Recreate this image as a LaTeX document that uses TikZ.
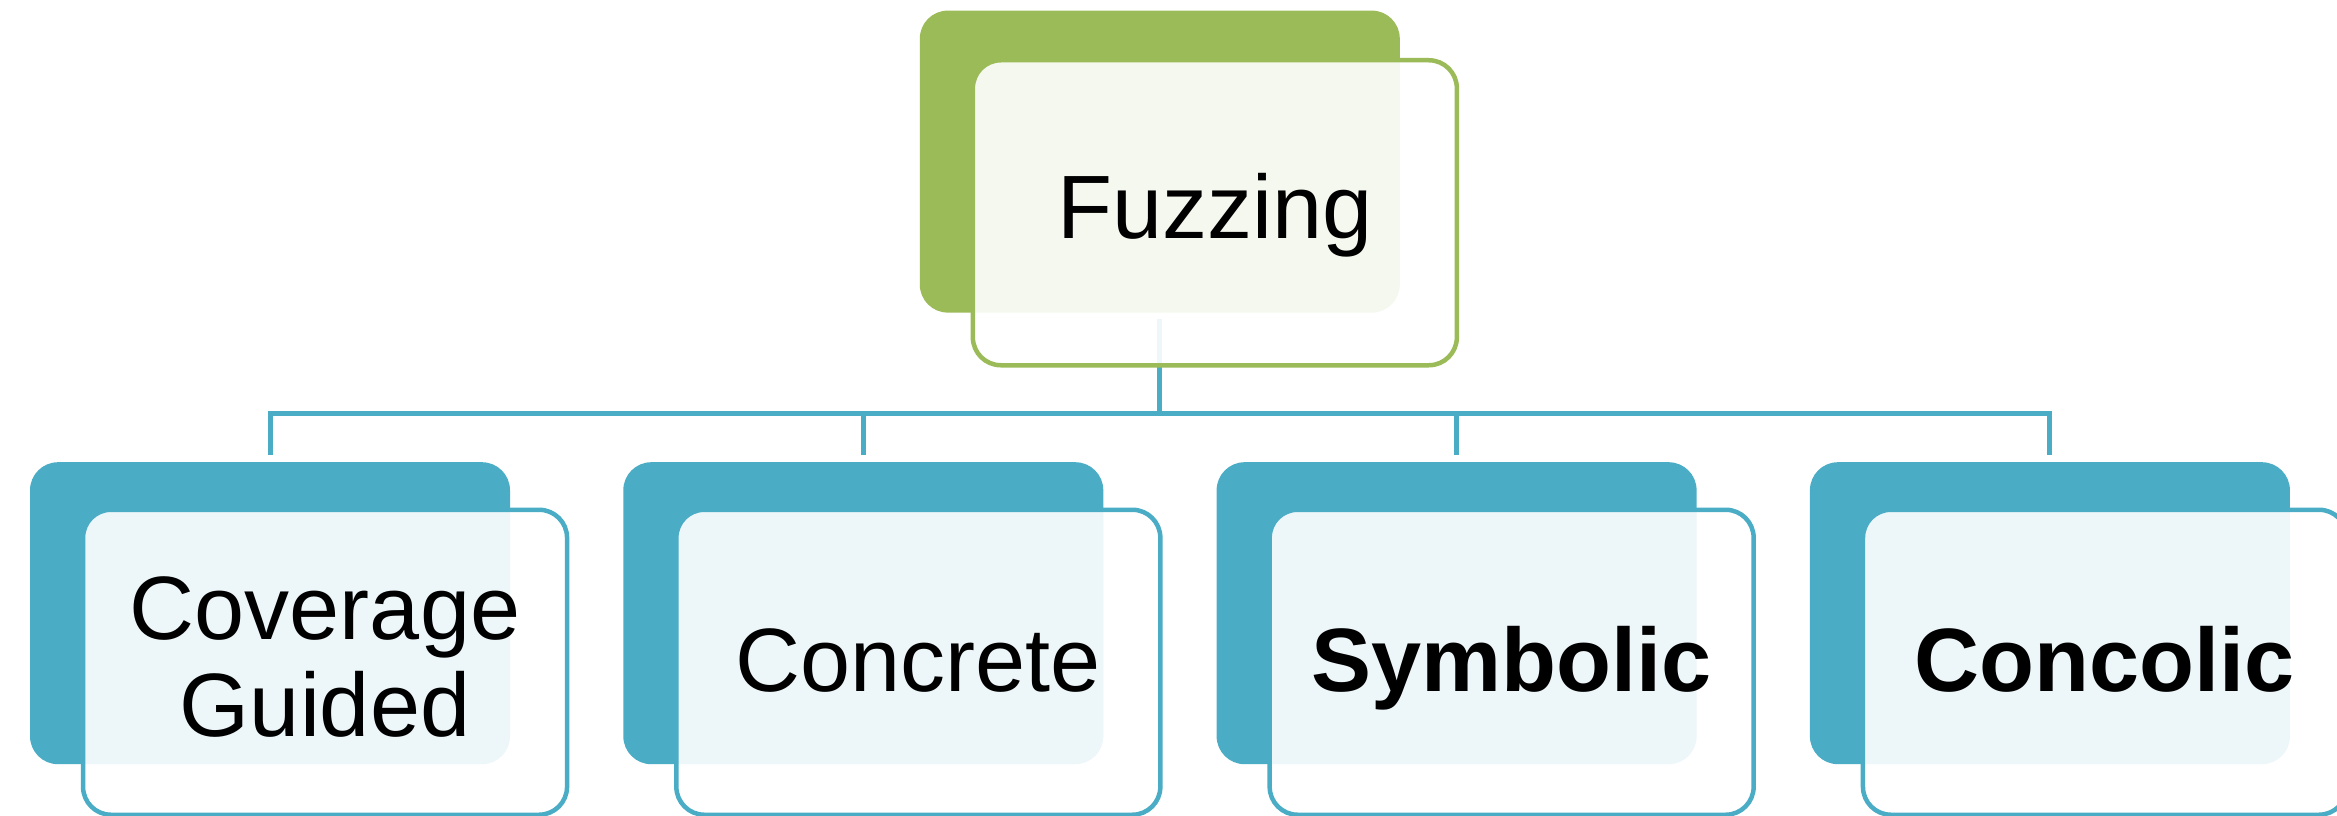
\documentclass[tikz,border=0pt]{standalone}
\usepackage{fontspec}
\setmainfont{Liberation Sans}
\usetikzlibrary{calc}
\definecolor{accgreen}{HTML}{9BBB59}
\definecolor{accblue}{HTML}{4BACC6}
\begin{document}
\begin{tikzpicture}[x=1pt,y=-1pt,
  backbox/.style={fill=#1, draw=none, rounded corners=28pt, inner sep=0pt,
    minimum width=480pt, minimum height=302pt, anchor=north west},
  frontbox/.style={fill=white, fill opacity=0.9, draw=#1, line width=4.5pt,
    rounded corners=28pt, inner sep=0pt, minimum width=484pt,
    minimum height=305pt, anchor=north west},
  conn/.style={draw=accblue, line width=5pt},
  lbl/.style={font=\fontsize{90}{97}\selectfont, text=black, inner sep=0pt, align=center},
  blbl/.style={lbl, font=\fontsize{90}{97}\selectfont\bfseries}
]
\useasboundingbox (0,0) rectangle (2337,816);

% level of the horizontal bus
\coordinate (bus) at (0,413);

% back (solid) shapes
\node[backbox=accgreen] (fzb) at (919.6,10.4) {};
\node[backbox=accblue] (b1) at (29.8,462) {};
\node[backbox=accblue] (b2) at (623.1,462) {};
\node[backbox=accblue] (b3) at (1216.4,462) {};
\node[backbox=accblue] (b4) at (1809.7,462) {};

% connectors (drawn beneath the front shapes)
\draw[conn] ([yshift=-6pt]fzb.south) -- (fzb.south |- bus);
\draw[conn] ([yshift=7pt]b1.north) -- (b1.north |- bus) -- (b4.north |- bus) -- ([yshift=7pt]b4.north);
\draw[conn] ([yshift=7pt]b2.north) -- (b2.north |- bus);
\draw[conn] ([yshift=7pt]b3.north) -- (b3.north |- bus);

% front (translucent) shapes
\node[frontbox=accgreen] (fzf) at (970.6,58) {};
\node[frontbox=accblue] (f1) at (80.8,507.5) {};
\node[frontbox=accblue] (f2) at (674.1,507.5) {};
\node[frontbox=accblue] (f3) at (1267.4,507.5) {};
\node[frontbox=accblue] (f4) at (1860.7,507.5) {};

% labels
\node[lbl, anchor=base] (t0) at ($(fzf.center)+(0,26)$) {Fuzzing};
\node[lbl, anchor=center] (t1) at ($(f1.center)+(0,-5)$) {Coverage\\Guided};
\node[lbl, anchor=base] (t2) at ($(f2.center)+(0,29)$) {Concrete};
\node[blbl, anchor=base] (t3) at ($(f3.center)+(0,29)$) {Symbolic};
\node[blbl, anchor=base] (t4) at ($(f4.center)+(0,29)$) {Concolic};
\end{tikzpicture}
\end{document}
